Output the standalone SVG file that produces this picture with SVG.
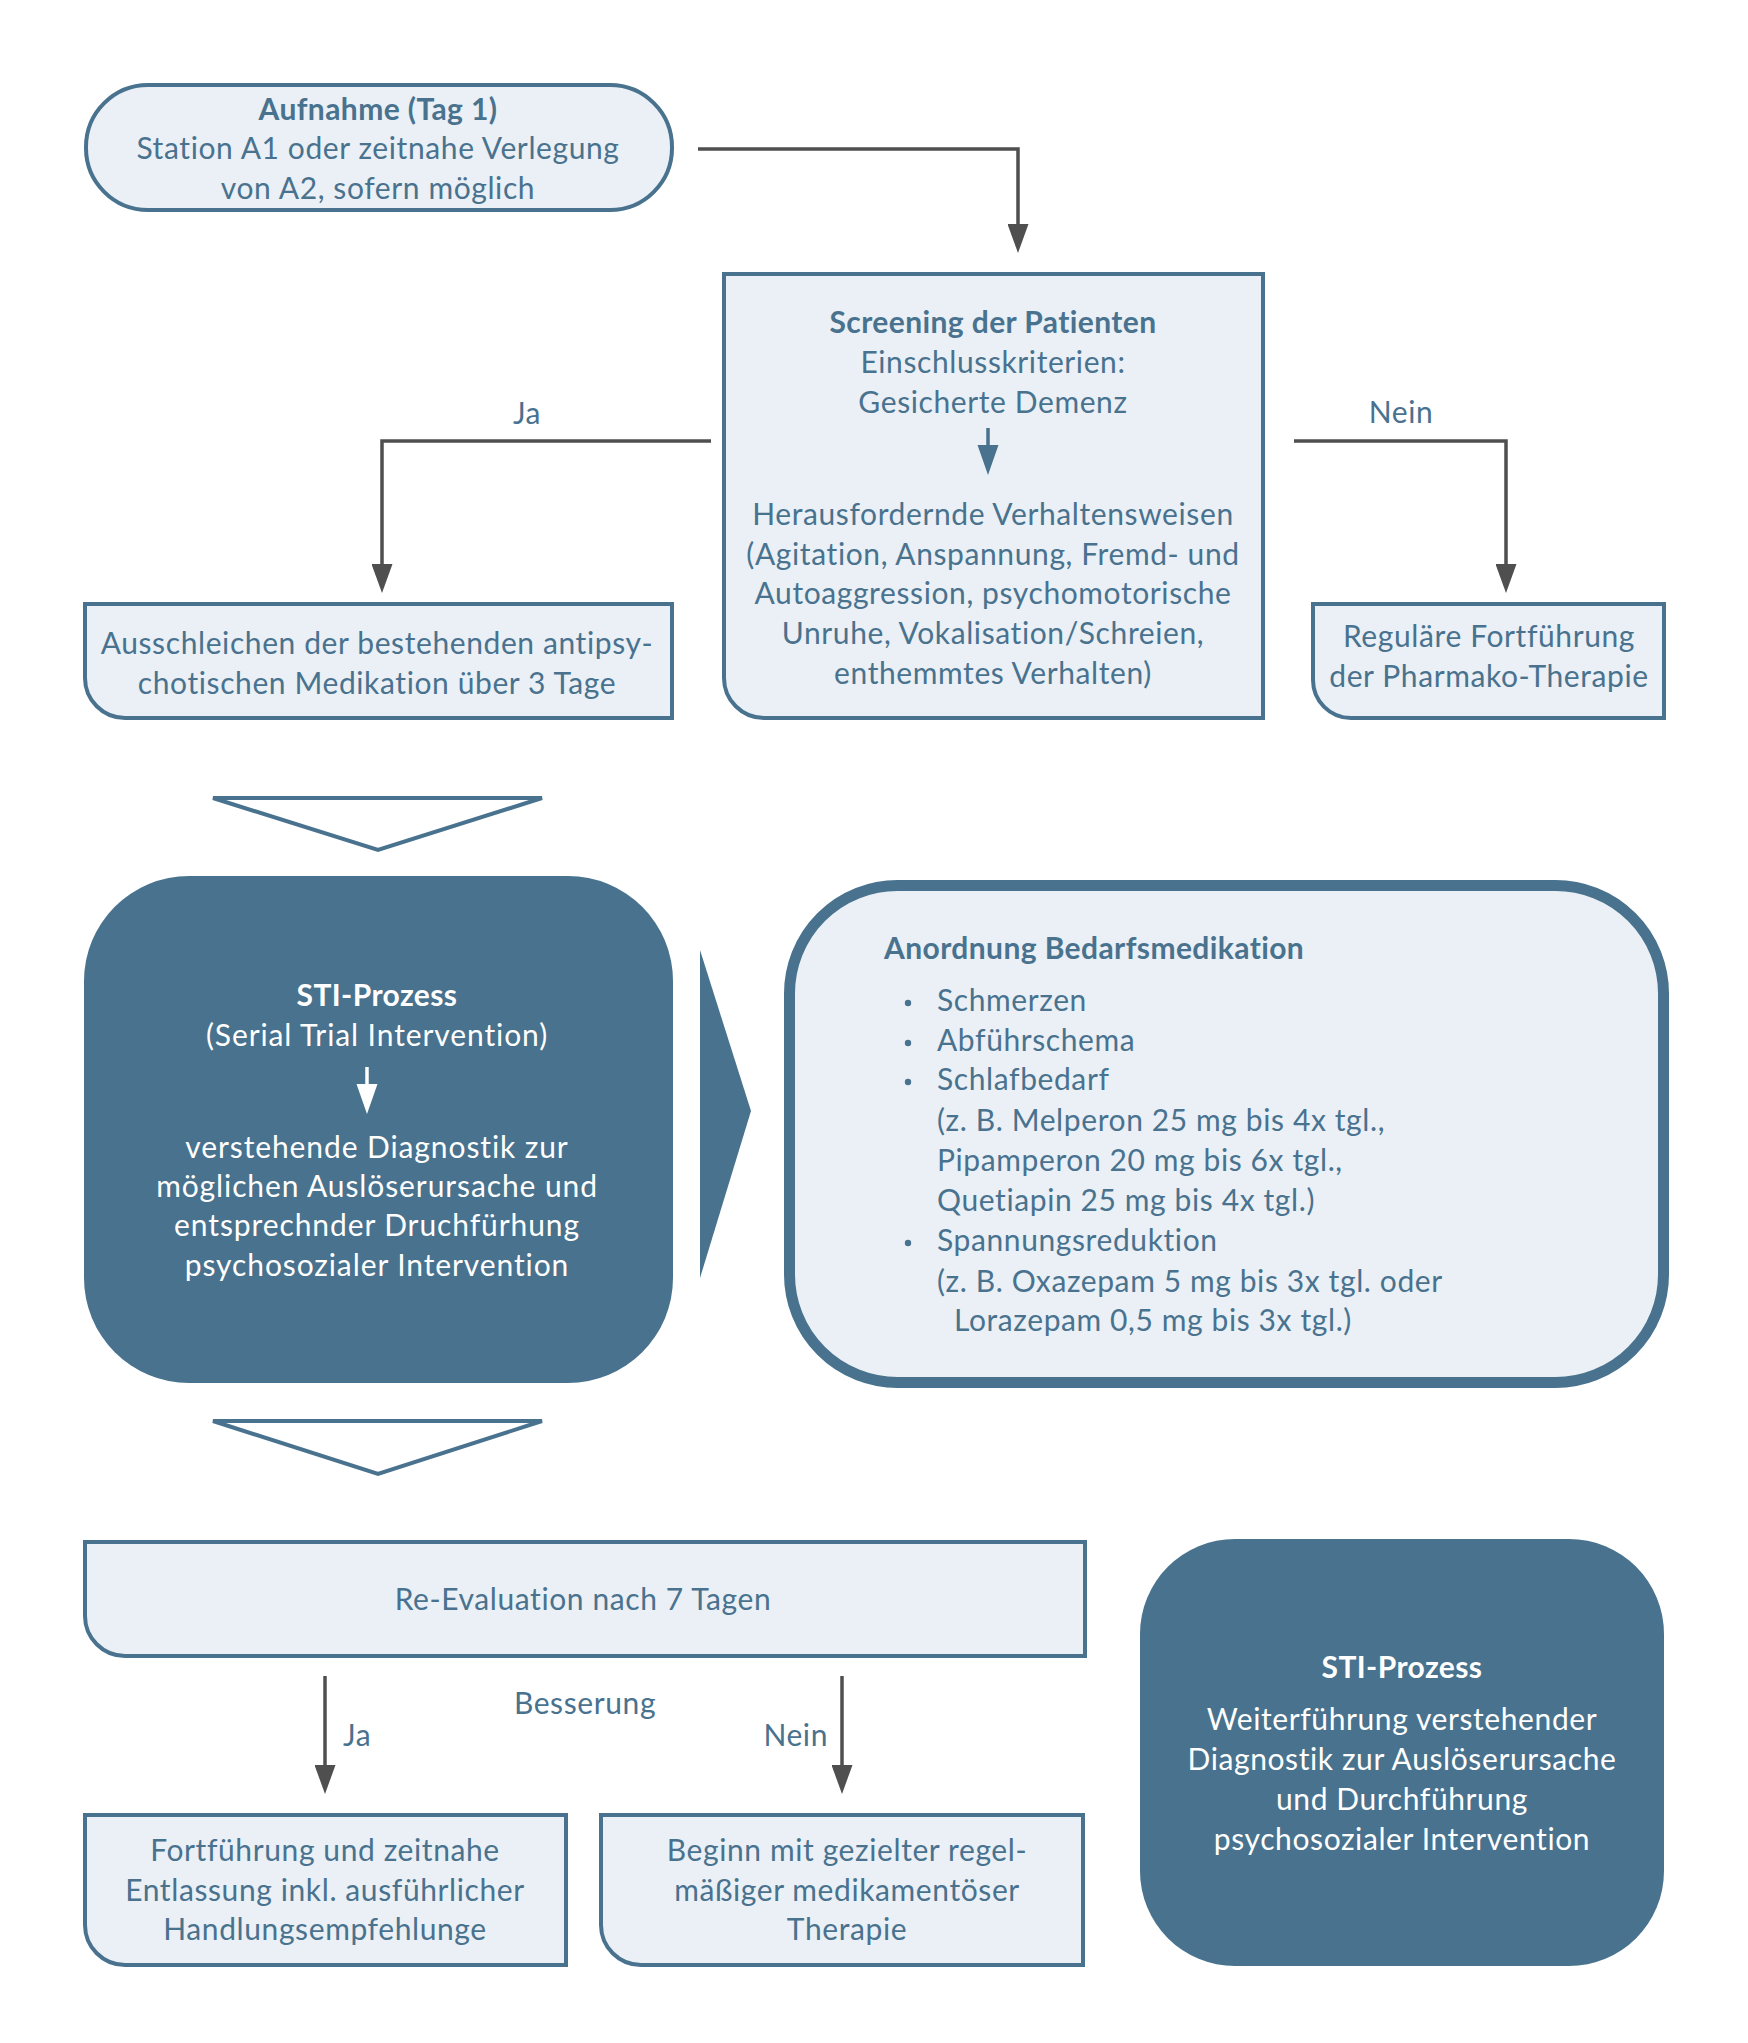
<svg xmlns="http://www.w3.org/2000/svg" width="1748" height="2043" viewBox="0 0 1748 2043">
<defs>
<style>
.box{fill:#eaf0f5;stroke:#49728f;stroke-width:4}
.dark{fill:#48728d}
.t{font-family:Lato,"Open Sans","Liberation Sans",sans-serif;font-size:30px;fill:#49728f;text-anchor:middle;letter-spacing:0.6px}
.w{fill:#ffffff}
.b{font-weight:bold;letter-spacing:0.4px}
.l{text-anchor:start}
.ws{letter-spacing:0.9px}
.con{fill:none;stroke:#4f4f4f;stroke-width:3.5}
</style>
<marker id="ah" viewBox="0 0 29 21" refX="19" refY="10.5" markerWidth="29" markerHeight="21" markerUnits="userSpaceOnUse" orient="auto">
<path d="M0,0 L29,10.5 L0,21 Z" fill="#4f4f4f"/>
</marker>
</defs>
<rect width="1748" height="2043" fill="#ffffff"/>

<g id="connectors">
<path class="con" d="M698,149 H1018 V243" marker-end="url(#ah)"/>
<path class="con" d="M711,441 H382 V583" marker-end="url(#ah)"/>
<path class="con" d="M1294,441 H1506 V583" marker-end="url(#ah)"/>
<path class="con" d="M325,1676 V1784" marker-end="url(#ah)"/>
<path class="con" d="M842,1676 V1784" marker-end="url(#ah)"/>
<text class="t" x="527" y="424">Ja</text>
<text class="t" x="1401" y="423">Nein</text>
<text class="t l" x="343" y="1746">Ja</text>
<text class="t" x="828" y="1746" style="text-anchor:end">Nein</text>
<text class="t" x="585" y="1714">Besserung</text>
<polygon points="213,798 542,798 378,850" fill="#ffffff" stroke="#49728f" stroke-width="4"/>
<polygon points="213,1421 542,1421 378,1474" fill="#ffffff" stroke="#49728f" stroke-width="4"/>
<polygon points="700,950 751,1111 700,1278" fill="#48728d"/>
</g>

<g id="aufnahme">
<rect class="box" x="86" y="85" width="586" height="125" rx="62"/>
<text class="t b" x="378" y="120">Aufnahme (Tag 1)</text>
<text class="t" x="378" y="159">Station A1 oder zeitnahe Verlegung</text>
<text class="t" x="378" y="199">von A2, sofern möglich</text>
</g>

<g id="screening">
<path class="box" d="M724,274 H1263 V718 H764 A40,40 0 0 1 724,678 Z"/>
<text class="t b" x="993" y="333">Screening der Patienten</text>
<text class="t" x="993" y="373">Einschlusskriterien:</text>
<text class="t" x="993" y="413">Gesicherte Demenz</text>
<line x1="988" y1="428" x2="988" y2="448" stroke="#49728f" stroke-width="3.5"/>
<polygon points="977.5,445 998.5,445 988,475" fill="#49728f"/>
<text class="t" x="993" y="525">Herausfordernde Verhaltensweisen</text>
<text class="t" x="993" y="565">(Agitation, Anspannung, Fremd- und</text>
<text class="t" x="993" y="604">Autoaggression, psychomotorische</text>
<text class="t" x="993" y="644">Unruhe, Vokalisation/Schreien,</text>
<text class="t" x="993" y="684">enthemmtes Verhalten)</text>
</g>

<g id="ausschleichen">
<path class="box" d="M85,604 H672 V718 H125 A40,40 0 0 1 85,678 Z"/>
<text class="t" x="377" y="654">Ausschleichen der bestehenden antipsy-</text>
<text class="t" x="377" y="694">chotischen Medikation über 3 Tage</text>
</g>

<g id="regulaer">
<path class="box" d="M1313,604 H1664 V718 H1351 A38,38 0 0 1 1313,680 Z"/>
<text class="t" x="1489" y="647">Reguläre Fortführung</text>
<text class="t" x="1489" y="687">der Pharmako-Therapie</text>
</g>

<g id="sti1">
<rect class="dark" x="84" y="876" width="589" height="507" rx="105"/>
<text class="t w b" x="377" y="1006">STI-Prozess</text>
<text class="t w ws" x="377" y="1046">(Serial Trial Intervention)</text>
<line x1="367" y1="1067" x2="367" y2="1087" stroke="#ffffff" stroke-width="3.5"/>
<polygon points="356.5,1084 377.5,1084 367,1114" fill="#ffffff"/>
<text class="t w ws" x="377" y="1158">verstehende Diagnostik zur</text>
<text class="t w ws" x="377" y="1197">möglichen Auslöserursache und</text>
<text class="t w ws" x="377" y="1236">entsprechnder Druchfürhung</text>
<text class="t w ws" x="377" y="1276">psychosozialer Intervention</text>
</g>

<g id="bedarf">
<rect x="789.5" y="885.5" width="874" height="497" rx="108" fill="#eaf0f5" stroke="#48728d" stroke-width="11"/>
<text class="t b l" x="884" y="959">Anordnung Bedarfsmedikation</text>
<g fill="#49728f">
<circle cx="908" cy="1003" r="3.2"/>
<circle cx="908" cy="1043" r="3.2"/>
<circle cx="908" cy="1082" r="3.2"/>
<circle cx="908" cy="1243" r="3.2"/>
</g>
<text class="t l" x="937" y="1011">Schmerzen</text>
<text class="t l" x="937" y="1051">Abführschema</text>
<text class="t l" x="937" y="1090">Schlafbedarf</text>
<text class="t l" x="937" y="1131">(z. B. Melperon 25 mg bis 4x tgl.,</text>
<text class="t l" x="937" y="1171">Pipamperon 20 mg bis 6x tgl.,</text>
<text class="t l" x="937" y="1211">Quetiapin 25 mg bis 4x tgl.)</text>
<text class="t l" x="937" y="1251">Spannungsreduktion</text>
<text class="t l" x="937" y="1292">(z. B. Oxazepam 5 mg bis 3x tgl. oder</text>
<text class="t l" x="954" y="1331">Lorazepam 0,5 mg bis 3x tgl.)</text>
</g>

<g id="reevaluation">
<path class="box" d="M85,1542 H1085 V1656 H125 A40,40 0 0 1 85,1616 Z"/>
<text class="t" x="583" y="1610">Re-Evaluation nach 7 Tagen</text>
</g>

<g id="fortfuehrung">
<path class="box" d="M85,1815 H566 V1965 H125 A40,40 0 0 1 85,1925 Z"/>
<text class="t" x="325" y="1861">Fortführung und zeitnahe</text>
<text class="t" x="325" y="1901">Entlassung inkl. ausführlicher</text>
<text class="t" x="325" y="1940">Handlungsempfehlunge</text>
</g>

<g id="beginn">
<path class="box" d="M601,1815 H1083 V1965 H641 A40,40 0 0 1 601,1925 Z"/>
<text class="t" x="847" y="1861">Beginn mit gezielter regel-</text>
<text class="t" x="847" y="1901">mäßiger medikamentöser</text>
<text class="t" x="847" y="1940">Therapie</text>
</g>

<g id="sti2">
<rect class="dark" x="1140" y="1539" width="524" height="427" rx="95"/>
<text class="t w b" x="1402" y="1678">STI-Prozess</text>
<text class="t w" x="1402" y="1730">Weiterführung verstehender</text>
<text class="t w" x="1402" y="1770">Diagnostik zur Auslöserursache</text>
<text class="t w" x="1402" y="1810">und Durchführung</text>
<text class="t w" x="1402" y="1850">psychosozialer Intervention</text>
</g>
</svg>
